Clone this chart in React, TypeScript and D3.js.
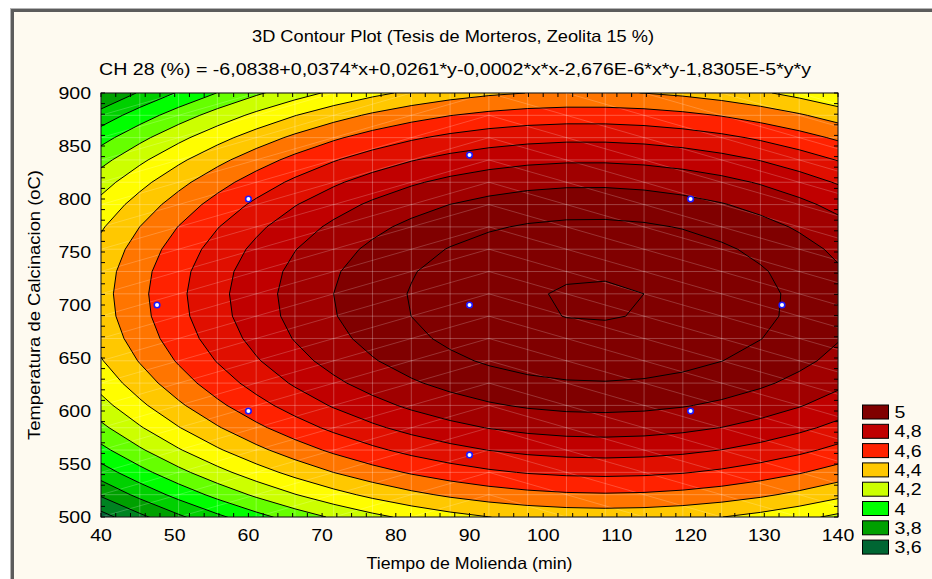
import React from "react";
import * as d3 from "d3";

const W = 932;
const H = 579;

// ---- data ----
const xTicks = [40, 50, 60, 70, 80, 90, 100, 110, 120, 130, 140];
const yTicks = [500, 550, 600, 650, 700, 750, 800, 850, 900];
// fitted surface (title formula; rounded terms refined from the contour centre)
// order: [const, x, y, x*x, x*y, y*y]
const surfaceCoefs = [-6.0838, 0.0374, 0.026086, -0.000166, -2.676e-6, -1.8305e-5];
const contourLevels = [3.6, 3.7, 3.8, 3.9, 4.0, 4.1, 4.2, 4.3, 4.4, 4.5, 4.6, 4.7, 4.8, 4.9, 5.0, 5.1];
const legendValues = [5, 4.8, 4.6, 4.4, 4.2, 4, 3.8, 3.6];
const legendLabels = ["5", "4,8", "4,6", "4,4", "4,2", "4", "3,8", "3,6"];
const legendColors = ["#800000", "#c00000", "#ff2200", "#ffc800", "#ccff00", "#00ff00", "#00a000", "#006633"];
const pointsX = [47.6, 60, 60, 90, 90, 90, 120, 120, 132.4];
const pointsY = [700, 600, 800, 558.6, 700, 841.4, 600, 800, 700];
const titleText = "3D Contour Plot (Tesis de Morteros, Zeolita 15 %)";
const formulaText = "CH 28 (%) = -6,0838+0,0374*x+0,0261*y-0,0002*x*x-2,676E-6*x*y-1,8305E-5*y*y";
const xTitle = "Tiempo de Molienda (min)";
const yTitle = "Temperatura de Calcinacion (oC)";
const gridN = 20;

const FONT = "'Liberation Sans', Arial, Helvetica, sans-serif";
const SX = 1.15; // horizontal stretch of the original lettering

function surface(x: number, y: number) {
  const c = surfaceCoefs;
  return c[0] + c[1] * x + c[2] * y + c[3] * x * x + c[4] * x * y + c[5] * y * y;
}

function colorAt(v: number) {
  const vals = legendValues.slice().reverse();
  const cols = legendColors.slice().reverse();
  if (v <= vals[0]) return cols[0];
  if (v >= vals[vals.length - 1]) return cols[cols.length - 1];
  for (let i = 0; i < vals.length - 1; i++) {
    if (v >= vals[i] - 1e-9 && v <= vals[i + 1] + 1e-9) {
      const t = (v - vals[i]) / (vals[i + 1] - vals[i]);
      return d3.color(d3.interpolateHsl(cols[i], cols[i + 1])(t))!.formatHex();
    }
  }
  return cols[cols.length - 1];
}

export default function App() {
  const L = 101, R = 838, T = 93, B = 517;
  const xs = d3.scaleLinear().domain([40, 140]).range([L, R]);
  const ys = d3.scaleLinear().domain([500, 900]).range([B, T]);
  const xStep = (140 - 40) / (gridN - 1);
  const yStep = (900 - 500) / (gridN - 1);
  const gx = d3.range(gridN).map((i) => 40 + i * xStep);
  const gy = d3.range(gridN).map((j) => 500 + j * yStep);

  const values: number[] = new Array(gridN * gridN);
  for (let j = 0; j < gridN; j++)
    for (let i = 0; i < gridN; i++) values[j * gridN + i] = surface(gx[i], gy[j]);

  const contours = d3.contours().size([gridN, gridN]).thresholds(contourLevels)(values);
  const proj = d3.geoTransform({
    point(x: number, y: number) {
      (this as any).stream.point(xs(40 + (x - 0.5) * xStep), ys(500 + (y - 0.5) * yStep));
    },
  });
  const path = d3.geoPath(proj as any);

  // chevron diagonals of the rendering mesh
  const diag: [number, number, number, number][] = [];
  for (let k = -12; k <= 32; k++) {
    const ax = xs(40 + 10 * xStep), ay = ys(500 + k * yStep);
    diag.push([ax, ay, xs(40 + 30 * xStep), ys(500 + (k - 10) * yStep)]);
    diag.push([ax, ay, xs(40 - 10 * xStep), ys(500 + (k - 10) * yStep)]);
  }

  const xMinor = d3.range(40, 141, 2);
  const yMinor = d3.range(500, 901, 10);
  const tickLen = 4;

  const legX = 862.5, legY0 = 405, legStep = 19.3, legW = 26, legH = 14;

  return (
    <div style={{ position: "absolute", left: 0, top: 0 }}>
      <svg width={W} height={H} style={{ display: "block" }} fontFamily={FONT}>
        <rect x={0} y={0} width={W} height={H} fill="#ffffff" />
        <rect x={10} y={8} width={W - 10} height={H - 8} fill="#fefaf0" />
        <rect x={10} y={8} width={W - 10} height={1} fill="#b4b4b4" />
        <rect x={10} y={8} width={1} height={H - 8} fill="#b4b4b4" />
        <rect x={11} y={9} width={W - 11} height={3} fill="#5c5c5c" />
        <rect x={11} y={9} width={3} height={H - 9} fill="#5c5c5c" />

        <defs>
          <clipPath id="plotClip">
            <rect x={L} y={T} width={R - L} height={B - T} />
          </clipPath>
        </defs>

        <g clipPath="url(#plotClip)">
          <rect x={L} y={T} width={R - L} height={B - T} fill={colorAt(contourLevels[0])} />
          {contours.map((c, i) => (
            <path key={"f" + i} d={path(c as any) || ""} fill={colorAt(c.value + 0.1)} stroke="none" />
          ))}
          {gx.map((x, i) => (
            <line key={"vx" + i} x1={xs(x)} x2={xs(x)} y1={T} y2={B} stroke="#ffffff" strokeOpacity={0.25} strokeWidth={1} />
          ))}
          {gy.map((y, i) => (
            <line key={"hy" + i} x1={L} x2={R} y1={ys(y)} y2={ys(y)} stroke="#ffffff" strokeOpacity={0.25} strokeWidth={1} />
          ))}
          {diag.map((d, i) => (
            <line key={"dg" + i} x1={d[0]} y1={d[1]} x2={d[2]} y2={d[3]} stroke="#ffffff" strokeOpacity={0.2} strokeWidth={1} />
          ))}
          {contours.map((c, i) => (
            <path key={"s" + i} d={path(c as any) || ""} fill="none" stroke="#000000" strokeWidth={1} strokeLinejoin="round" />
          ))}
        </g>

        {/* axis frame and inward ticks */}
        <rect x={L} y={T} width={R - L} height={B - T} fill="none" stroke="#000000" strokeWidth={1} />
        {xMinor.map((v, i) => (
          <g key={"xt" + i}>
            <line x1={xs(v)} x2={xs(v)} y1={B} y2={B - tickLen} stroke="#000" strokeWidth={1} />
            <line x1={xs(v)} x2={xs(v)} y1={T} y2={T + tickLen} stroke="#000" strokeWidth={1} />
          </g>
        ))}
        {yMinor.map((v, i) => (
          <g key={"yt" + i}>
            <line x1={L} x2={L + tickLen} y1={ys(v)} y2={ys(v)} stroke="#000" strokeWidth={1} />
            <line x1={R} x2={R - tickLen} y1={ys(v)} y2={ys(v)} stroke="#000" strokeWidth={1} />
          </g>
        ))}

        {/* data points */}
        {pointsX.map((x, i) => (
          <circle key={"p" + i} cx={xs(x)} cy={ys(pointsY[i])} r={2.8} fill="#ffffff" stroke="#1a1aff" strokeWidth={1.6} />
        ))}

        {/* tick labels */}
        {xTicks.map((v, i) => (
          <g key={"xl" + i} transform={`translate(${xs(v)},${541}) scale(${SX},1)`}>
            <text textAnchor="middle" fontSize={17} fill="#000">{v}</text>
          </g>
        ))}
        {yTicks.map((v, i) => (
          <g key={"yl" + i} transform={`translate(${91},${ys(v) + 6}) scale(${SX},1)`}>
            <text textAnchor="end" fontSize={17} fill="#000">{v}</text>
          </g>
        ))}

        {/* titles */}
        <text x={453} y={42} textAnchor="middle" fontSize={16.5} textLength={402} lengthAdjust="spacingAndGlyphs" fill="#000">{titleText}</text>
        <text x={455} y={75} textAnchor="middle" fontSize={16.5} textLength={712} lengthAdjust="spacingAndGlyphs" fill="#000">{formulaText}</text>
        <text x={(L + R) / 2} y={569} textAnchor="middle" fontSize={16.5} textLength={206} lengthAdjust="spacingAndGlyphs" fill="#000">{xTitle}</text>
        <text transform={`translate(40,${(T + B) / 2}) rotate(-90)`} textAnchor="middle" fontSize={16.5} textLength={270} lengthAdjust="spacingAndGlyphs" fill="#000">{yTitle}</text>

        {/* legend */}
        {legendValues.map((v, i) => (
          <g key={"lg" + i}>
            <rect x={legX} y={legY0 + i * legStep} width={legW} height={legH} fill={legendColors[i]} stroke="#000" strokeWidth={1} />
            <g transform={`translate(${legX + legW + 6},${legY0 + i * legStep + 13}) scale(${SX},1)`}>
              <text fontSize={17} fill="#000">{legendLabels[i]}</text>
            </g>
          </g>
        ))}
      </svg>
    </div>
  );
}
